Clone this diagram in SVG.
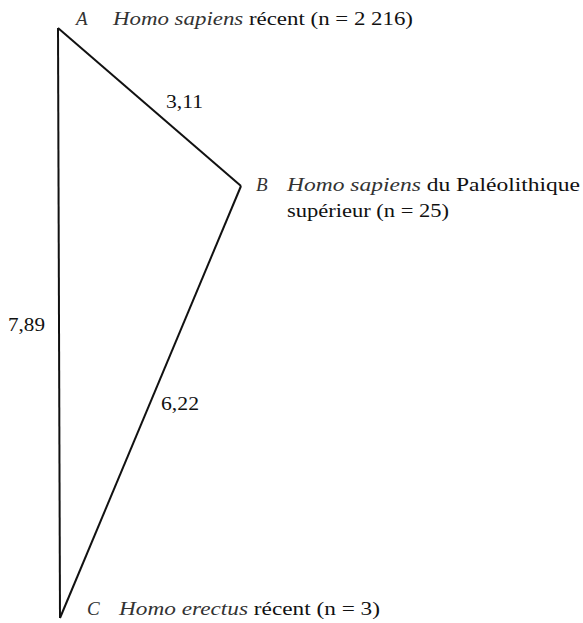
<svg xmlns="http://www.w3.org/2000/svg" width="583" height="623" viewBox="0 0 583 623">
<style>
text{font-family:"Liberation Serif","DejaVu Serif",serif;font-size:19px;fill:#111}
.i{font-style:italic;fill:#333}
.e{fill:none;stroke:#111;stroke-width:2}
</style>
<rect width="583" height="623" fill="#fff"/>
<g id="connectors">
<line class="e" x1="58" y1="28" x2="241" y2="186"/>
<line class="e" x1="241" y1="186" x2="60" y2="618"/>
<line class="e" x1="58" y1="28" x2="60" y2="618"/>
<text x="166" y="108" textLength="37" lengthAdjust="spacingAndGlyphs">3,11</text>
<text x="8" y="331" textLength="37" lengthAdjust="spacingAndGlyphs">7,89</text>
<text x="161" y="410" textLength="38" lengthAdjust="spacingAndGlyphs">6,22</text>
</g>
<g id="A"><text x="76" y="25" class="i">A</text><text x="113" y="25" textLength="300" lengthAdjust="spacingAndGlyphs"><tspan class="i">Homo sapiens</tspan> récent  (n = 2 216)</text></g>
<g id="B"><text x="256" y="191" class="i">B</text><text x="287" y="191" textLength="293" lengthAdjust="spacingAndGlyphs"><tspan class="i">Homo sapiens</tspan> du Paléolithique</text><text x="287" y="217" textLength="162" lengthAdjust="spacingAndGlyphs">supérieur  (n = 25)</text></g>
<g id="C"><text x="87" y="615" class="i">C</text><text x="119" y="615" textLength="261" lengthAdjust="spacingAndGlyphs"><tspan class="i">Homo erectus</tspan> récent  (n = 3)</text></g>
</svg>
